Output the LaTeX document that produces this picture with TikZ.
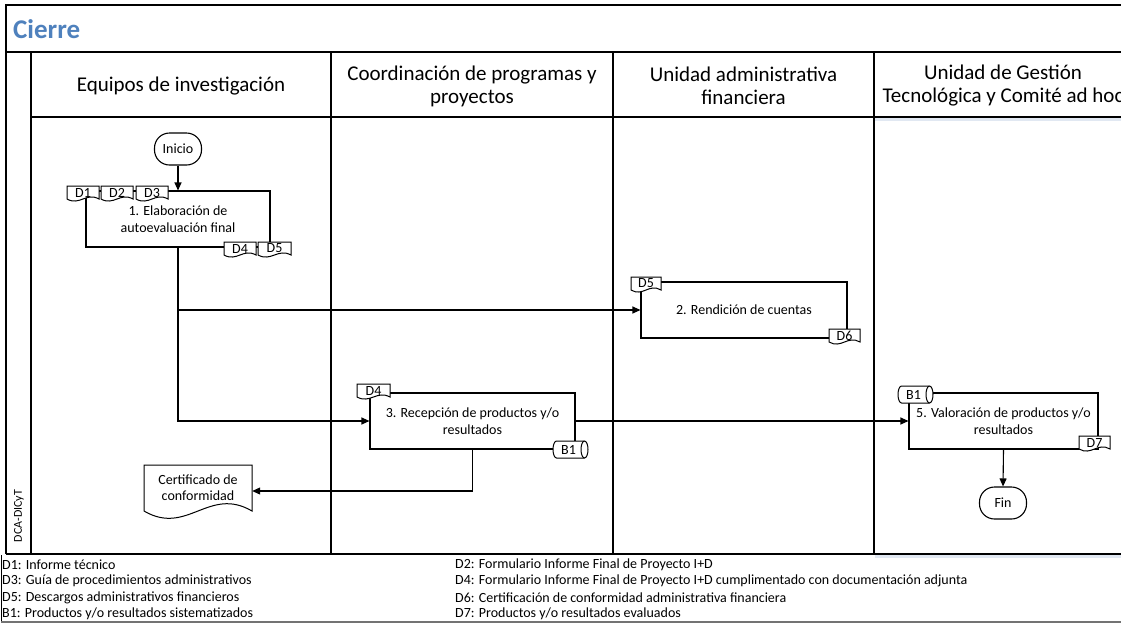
\documentclass[tikz,border=0pt]{standalone}
\usepackage{fontspec}
\setmainfont{Carlito}
\usetikzlibrary{arrows.meta}
\definecolor{titleblue}{RGB}{79,129,189}
\definecolor{shadow}{RGB}{225,232,242}
\newcommand\docu[6]{%
  \draw[docline] (#2,#3) -- (#4,#3) -- (#4,#5) .. controls ({#4-0.4*(#4-#2)},{#5-0.55*(#5-#3)}) and ({#2+0.4*(#4-#2)},{#5+0.55*(#5-#3)}) .. (#2,#5) -- cycle;
  \node[doctext, minimum width={(#4-#2)*1pt}] (#1) at ({(#2+#4)/2},{(#3+#5)/2}) {#6};}
\newcommand\cyl[6]{%
  \draw[docline] ({#2+3.5},#3) -- ({#4-3.5},#3) arc[start angle=90,end angle=-90,x radius=3.5pt,y radius=8.5pt] -- ({#2+3.5},#5) arc[start angle=270,end angle=90,x radius=3.5pt,y radius=8.5pt] -- cycle;
  \draw[docline,fill=none] ({#4-3.5},#3) arc[start angle=90,end angle=270,x radius=3.5pt,y radius=8.5pt];
  \node[doctext] (#1) at ({(#2+#4)/2-2},{(#3+#5)/2}) {#6};}
\begin{document}
\begin{tikzpicture}[x=1pt,y=-1pt,
  frame/.style={line width=1.3pt},
  conn/.style={line width=1.1pt,-{Triangle[length=8pt,width=7pt]}},
  link/.style={line width=1.1pt},
  procbox/.style={draw,line width=1.1pt,inner sep=0pt,align=center,font=\fontsize{14}{17}\selectfont},
  term/.style={draw,line width=1.1pt,rounded corners=15pt,minimum width=47pt,minimum height=32pt,inner sep=0pt,font=\fontsize{14}{17}\selectfont},
  docline/.style={draw,fill=white,line width=1pt},
  doctext/.style={font=\fontsize{14}{16}\selectfont,inner sep=0pt,align=center},
  lane/.style={font=\fontsize{21}{23}\selectfont,align=center,inner sep=0pt},
  legend/.style={font=\fontsize{14}{16}\selectfont,anchor=west,inner sep=0pt}
]
\useasboundingbox (0,0) rectangle (1121,625);
\clip (0,0) rectangle (1121,625);
\fill[white] (0,0) rectangle (1121,625);
% shadows
\fill[shadow] (875,118) rectangle (1130,121);
\fill[shadow] (875,555) rectangle (1130,558);
% frame
\draw[frame] (1130,5) -- (6,5) -- (6,554);
\draw[frame] (6,52) -- (1130,52);
\draw[frame] (31,52) -- (31,554);
\draw[frame] (31,117) -- (1130,117);
\draw[frame] (331,52) -- (331,554);
\draw[frame] (613,52) -- (613,554);
\draw[frame] (874,52) -- (874,554);
\draw[line width=2.4pt] (6,554) -- (1130,554);
\draw[line width=0.8pt] (1,555) -- (1,622);
\draw[line width=1.2pt,black!55] (1,622) -- (1130,622);
% title and lanes
\node[font=\fontsize{27}{30}\selectfont\bfseries,text=titleblue,anchor=west,inner sep=0pt] (title) at (13,29) {Cierre};
\node[lane] (l1) at (181,86) {Equipos de investigación};
\node[lane] (l2) at (472,86) {Coordinación de programas y\\proyectos};
\node[lane] (l3) at (743.5,86) {Unidad administrativa\\financiera};
\node[lane] (l4) at (1003,86) {Unidad de Gestión\\Tecnológica y Comité ad hoc};
\node[rotate=90,font=\fontsize{12}{14}\selectfont,inner sep=0pt] (org) at (19,516) {DCA-DICyT};
% process nodes
\node[term] (ini) at (178,149) {Inicio};
\node[procbox,minimum width=184pt,minimum height=56pt] (p1) at (178,219) {1. Elaboración de\\autoevaluación final};
\node[procbox,minimum width=206pt,minimum height=56pt] (p2) at (744,310) {2. Rendición de cuentas};
\node[procbox,minimum width=205pt,minimum height=56pt] (p3) at (472.5,421) {3. Recepción de productos y/o\\resultados};
\node[procbox,minimum width=189pt,minimum height=56pt] (p5) at (1003.5,421) {5. Valoración de productos y/o\\resultados};
\node[term] (fin) at (1003,503) {Fin};
% certificate
\docu{cert}{144}{465}{252}{511}{\fontsize{14}{17}\selectfont Certificado de\\conformidad}
% connectors
\draw[conn] (ini) -- (p1);
\draw[conn] (p1.south) |- (p2.west);
\draw[conn] (p1.south) |- (p3.west);
\draw[conn] (p3.east) -- (p5.west);
\draw[conn] (p3.south) |- ([yshift=-3pt]cert.east);
\draw[conn] (p5.south) -- (fin.north);
% document tabs
\docu{d1a}{67}{186}{99}{199}{D1}
\docu{d2a}{101}{186}{133}{199}{D2}
\docu{d3a}{136}{186}{168}{199}{D3}
\docu{d4a}{224}{242}{256}{255}{D4}
\docu{d5a}{258}{242}{291}{255}{D5}
\docu{d5b}{631}{277}{661}{290}{D5}
\docu{d6b}{829}{329}{860}{342}{D6}
\docu{d4c}{357}{384}{390}{397}{D4}
\cyl{b1c}{553}{441}{588}{458}{B1}
\cyl{b1e}{898}{386}{933}{403}{B1}
\docu{d7e}{1079}{436}{1110}{449}{D7}
% legend
\node[legend] (g1) at (2,565) {D1: Informe técnico};
\node[legend] (g3) at (2,581) {D3: Guía de procedimientos administrativos};
\node[legend] (g5) at (2,598) {D5: Descargos administrativos financieros};
\node[legend] (gb) at (2,614) {B1: Productos y/o resultados sistematizados};
\node[legend] (g2) at (455,565) {D2: Formulario Informe Final de Proyecto I+D};
\node[legend] (g4) at (455,581) {D4: Formulario Informe Final de Proyecto I+D cumplimentado con documentación adjunta};
\node[legend] (g6) at (455,598) {D6: Certificación de conformidad administrativa financiera};
\node[legend] (g7) at (455,614) {D7: Productos y/o resultados evaluados};
\end{tikzpicture}
\end{document}
